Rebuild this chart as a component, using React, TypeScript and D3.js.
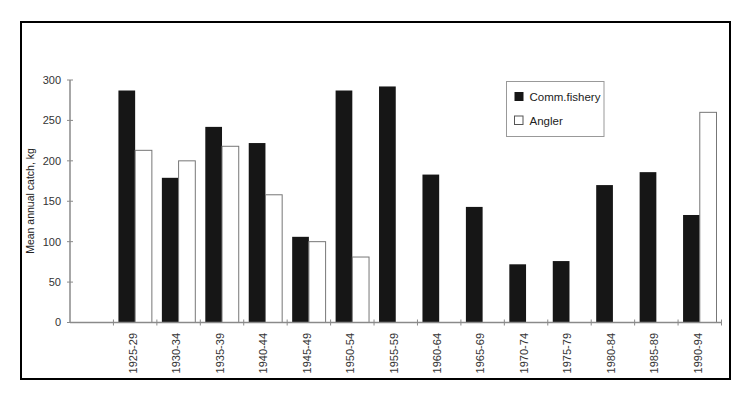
import React from "react";
import * as d3 from "d3";

const categories = ["1925-29","1930-34","1935-39","1940-44","1945-49","1950-54","1955-59","1960-64","1965-69","1970-74","1975-79","1980-84","1985-89","1990-94"];
const commFishery = [287,179,242,222,106,287,292,183,143,72,76,170,186,133];
const angler: (number|null)[] = [213,200,218,158,100,81,null,null,null,null,null,null,null,260];
const yTicks = [0,50,100,150,200,250,300];

const W = 750, H = 398;
const FONT = "'Liberation Sans', Arial, Helvetica, sans-serif";

export default function App() {
  const x = d3.scaleBand<string>().domain(["", ...categories]).range([70, 721.5]).paddingInner(0).paddingOuter(0);
  const y = d3.scaleLinear().domain([0, 300]).range([322.5, 80]);
  const bw = x.bandwidth();
  const off = 5;
  const barW = (bw - 2 * off) / 2;
  const axisColor = "#8a8a8a";
  return (
    <svg width={W} height={H} style={{ position: "absolute", left: 0, top: 0 }} fontFamily={FONT}>
      <rect x={0} y={0} width={W} height={H} fill="#fff" />
      <rect x={21} y={22} width={709} height={357} fill="none" stroke="#000" strokeWidth={2} />
      {/* bars */}
      {categories.map((c, i) => {
        const x0 = (x(c) as number) + off;
        return (
          <g key={c}>
            <rect x={x0} y={y(commFishery[i])} width={barW} height={y(0) - y(commFishery[i])} fill="#161616" />
            {angler[i] != null && (
              <rect x={x0 + barW} y={y(angler[i] as number)} width={barW} height={y(0) - y(angler[i] as number)} fill="#fff" stroke="#777" strokeWidth={1} />
            )}
          </g>
        );
      })}
      {/* y axis */}
      <line x1={70} x2={70} y1={y(300)} y2={y(0)} stroke={axisColor} strokeWidth={1.5} />
      {yTicks.map(t => (
        <g key={t}>
          <line x1={67} x2={73} y1={y(t)} y2={y(t)} stroke={axisColor} strokeWidth={1} />
          <text x={61} y={y(t)} dy="0.35em" textAnchor="end" fontSize={11} fill="#333">{t}</text>
        </g>
      ))}
      {/* x axis */}
      <line x1={70} x2={722} y1={y(0)} y2={y(0)} stroke={axisColor} strokeWidth={1.5} />
      {["", ...categories].map((c, i) => (
        i === 0 ? null :
        <line key={"t" + c} x1={x(c) as number} x2={x(c) as number} y1={y(0) - 3} y2={y(0) + 3} stroke={axisColor} strokeWidth={1} />
      ))}
      <line x1={721.5} x2={721.5} y1={y(0) - 3} y2={y(0) + 3} stroke={axisColor} strokeWidth={1} />
      {categories.map(c => {
        const cx = (x(c) as number) + bw / 2 - 2;
        return (
          <text key={"l" + c} transform={`translate(${cx},333) rotate(-90)`} textAnchor="end" dy="0.35em" fontSize={11} fill="#333">{c}</text>
        );
      })}
      {/* y label */}
      <text transform={`translate(30,201) rotate(-90)`} textAnchor="middle" dy="0.35em" fontSize={10.5} fill="#222">Mean annual catch, kg</text>
      {/* legend */}
      <rect x={506.5} y={81.5} width={97.5} height={55} fill="#fff" stroke="#999" strokeWidth={1} />
      <rect x={514.5} y={92} width={9} height={9} fill="#161616" />
      <text x={529.5} y={101} fontSize={11.5} fill="#222">Comm.fishery</text>
      <rect x={514.5} y={116} width={8.5} height={8.5} fill="#fff" stroke="#555" strokeWidth={1} />
      <text x={529.5} y={125} fontSize={11.5} fill="#222">Angler</text>
    </svg>
  );
}
